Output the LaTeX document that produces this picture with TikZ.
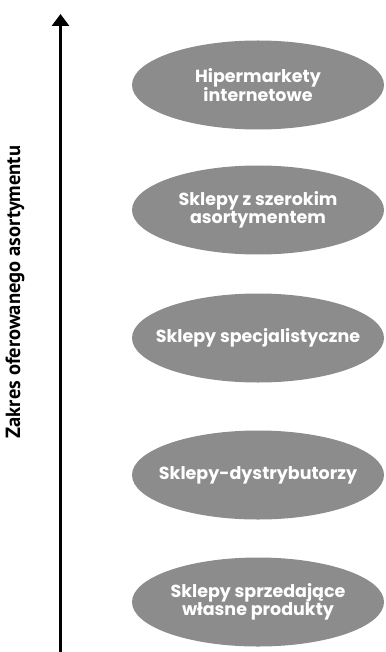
\documentclass[tikz,border=0pt]{standalone}
\usepackage{fontspec}
\setmainfont{Poppins}
\newfontfamily\axisfont{PT Sans}
\usetikzlibrary{arrows.meta,shapes.geometric}
\definecolor{ovalgrey}{HTML}{8C8C8C}
\tikzset{
  oval/.style={ellipse, fill=ovalgrey, draw=none, minimum width=252pt, minimum height=89pt, inner sep=0pt},
  ovaltext/.style={text=white, align=center, inner sep=0pt, font=\fontsize{17.5}{18}\selectfont\bfseries},
  axisline/.style={line width=3pt, -{Triangle[width=17pt,length=12pt]}},
  axislabel/.style={rotate=90, font=\axisfont\fontsize{20.5}{22}\selectfont\bfseries}
}
\begin{document}
\begin{tikzpicture}[x=1pt,y=-1pt]
\useasboundingbox (0,0) rectangle (385,652);
\coordinate (bottom) at (60.5,652);
\coordinate (top) at (60.5,14);
\draw[axisline] (bottom) -- (top);
\node[axislabel] (lab) at (15,292) {Zakres oferowanego asortymentu};
\node[oval] (o1) at (258,85) {};
\node[ovaltext] (t1) at (o1.center) {Hipermarkety\\internetowe};
\node[oval] (o2) at (258,210) {};
\node[ovaltext] (t2) at (o2.center) {Sklepy z szerokim\\asortymentem};
\node[oval] (o3) at (258,338) {};
\node[ovaltext] (t3) at (o3.center) {Sklepy specjalistyczne};
\node[oval] (o4) at (258,475) {};
\node[ovaltext] (t4) at (o4.center) {Sklepy-dystrybutorzy};
\node[oval] (o5) at (258,602) {};
\node[ovaltext] (t5) at (o5.center) {Sklepy sprzedające\\własne produkty};
\end{tikzpicture}
\end{document}
